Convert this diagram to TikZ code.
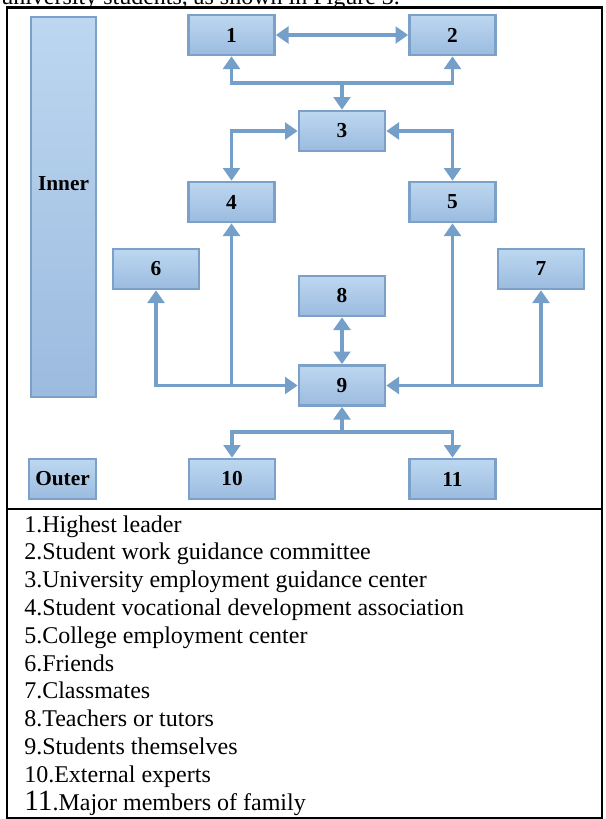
\documentclass[tikz,border=0pt]{standalone}
\usepackage{fontspec}
\setmainfont{Liberation Serif}
\usetikzlibrary{arrows.meta}
\definecolor{boxtop}{HTML}{BDD7F0}
\definecolor{boxbot}{HTML}{9BBBDF}
\definecolor{boxedge}{HTML}{7BA1C9}
\definecolor{linkcol}{HTML}{739FC9}
\begin{document}
\begin{tikzpicture}[x=0.75pt,y=-0.75pt]
        \tikzstyle{box} = [rectangle, draw=boxedge, line width=2pt, top color=boxtop, bottom color=boxbot, minimum width=64.5pt, minimum height=30pt, inner sep=0pt, font=\fontsize{16}{18}\selectfont\bfseries]
        \tikzstyle{arr} = [draw=linkcol, line width=2.5pt, >={Triangle[width=12.5pt,length=9.5pt]}]
        \tikzstyle{frame} = [draw=black, line width=1.6pt]
        \tikzstyle{item} = [inner sep=0pt, anchor=base west, font=\fontsize{18}{20}\selectfont]
        \useasboundingbox (0,0) rectangle (606,819);
        % cut-off line of the page above the figure
        \begin{scope}
            \clip (0,0) rectangle (606,7);
            \node (cap) [item] at (1,4) {university students, as shown in Figure 3.};
        \end{scope}
        \draw[frame] (7,7.5) rectangle (602,818);
        \draw[frame] (7,509) -- (602,509);
        % levels
        \node (inner) [box, minimum width=48.75pt, minimum height=285pt] at (63.5,207) {};
        \node (innertxt) [font=\fontsize{16}{18}\selectfont\bfseries] at (63.5,184) {Inner};
        \node (outer) [box, minimum width=50.25pt] at (62.5,479) {Outer};
        % members
        \node (n1) [box] at (231.5,35) {1};
        \node (n2) [box] at (452.5,35) {2};
        \node (n3) [box] at (342,131) {3};
        \node (n4) [box] at (231.5,202) {4};
        \node (n5) [box] at (452.5,202) {5};
        \node (n6) [box] at (156,269) {6};
        \node (n7) [box] at (541,269) {7};
        \node (n8) [box] at (342,296) {8};
        \node (n9) [box] at (342,385.5) {9};
        \node (n10) [box] at (232,479) {10};
        \node (n11) [box] at (452.5,479) {11};
        \coordinate (top) at (342,83);
        \coordinate (bot) at (342,432);
        % links
        \draw[arr, <->] (n1) -- (n2);
        \draw[arr, <->] (n1.south) |- (top) -| (n2.south);
        \draw[arr, ->] (top) -- (n3.north);
        \draw[arr, <->] (n3.west) -| (n4.north);
        \draw[arr, <->] (n3.east) -| (n5.north);
        \draw[arr, <->] (n6.south) |- (n9.west);
        \draw[arr, ->] (n9.west -| n4.south) -- (n4.south);
        \draw[arr, <->] (n7.south) |- (n9.east);
        \draw[arr, ->] (n9.east -| n5.south) -- (n5.south);
        \draw[arr, <->] (n8) -- (n9);
        \draw[arr, ->] (bot) -- (n9.south);
        \draw[arr, <->] (n10.north) |- (bot) -| (n11.north);
        % key
        \foreach \t [count=\i] in {1.Highest leader, 2.Student work guidance committee, 3.University employment guidance center, 4.Student vocational development association, 5.College employment center, 6.Friends, 7.Classmates, 8.Teachers or tutors, 9.Students themselves, 10.External experts, {{\fontsize{22}{24}\selectfont 11}.Major members of family}}
            \node (key\i) [item] at (24,{532+27.8*(\i-1)}) {\t};
\end{tikzpicture}
\end{document}
